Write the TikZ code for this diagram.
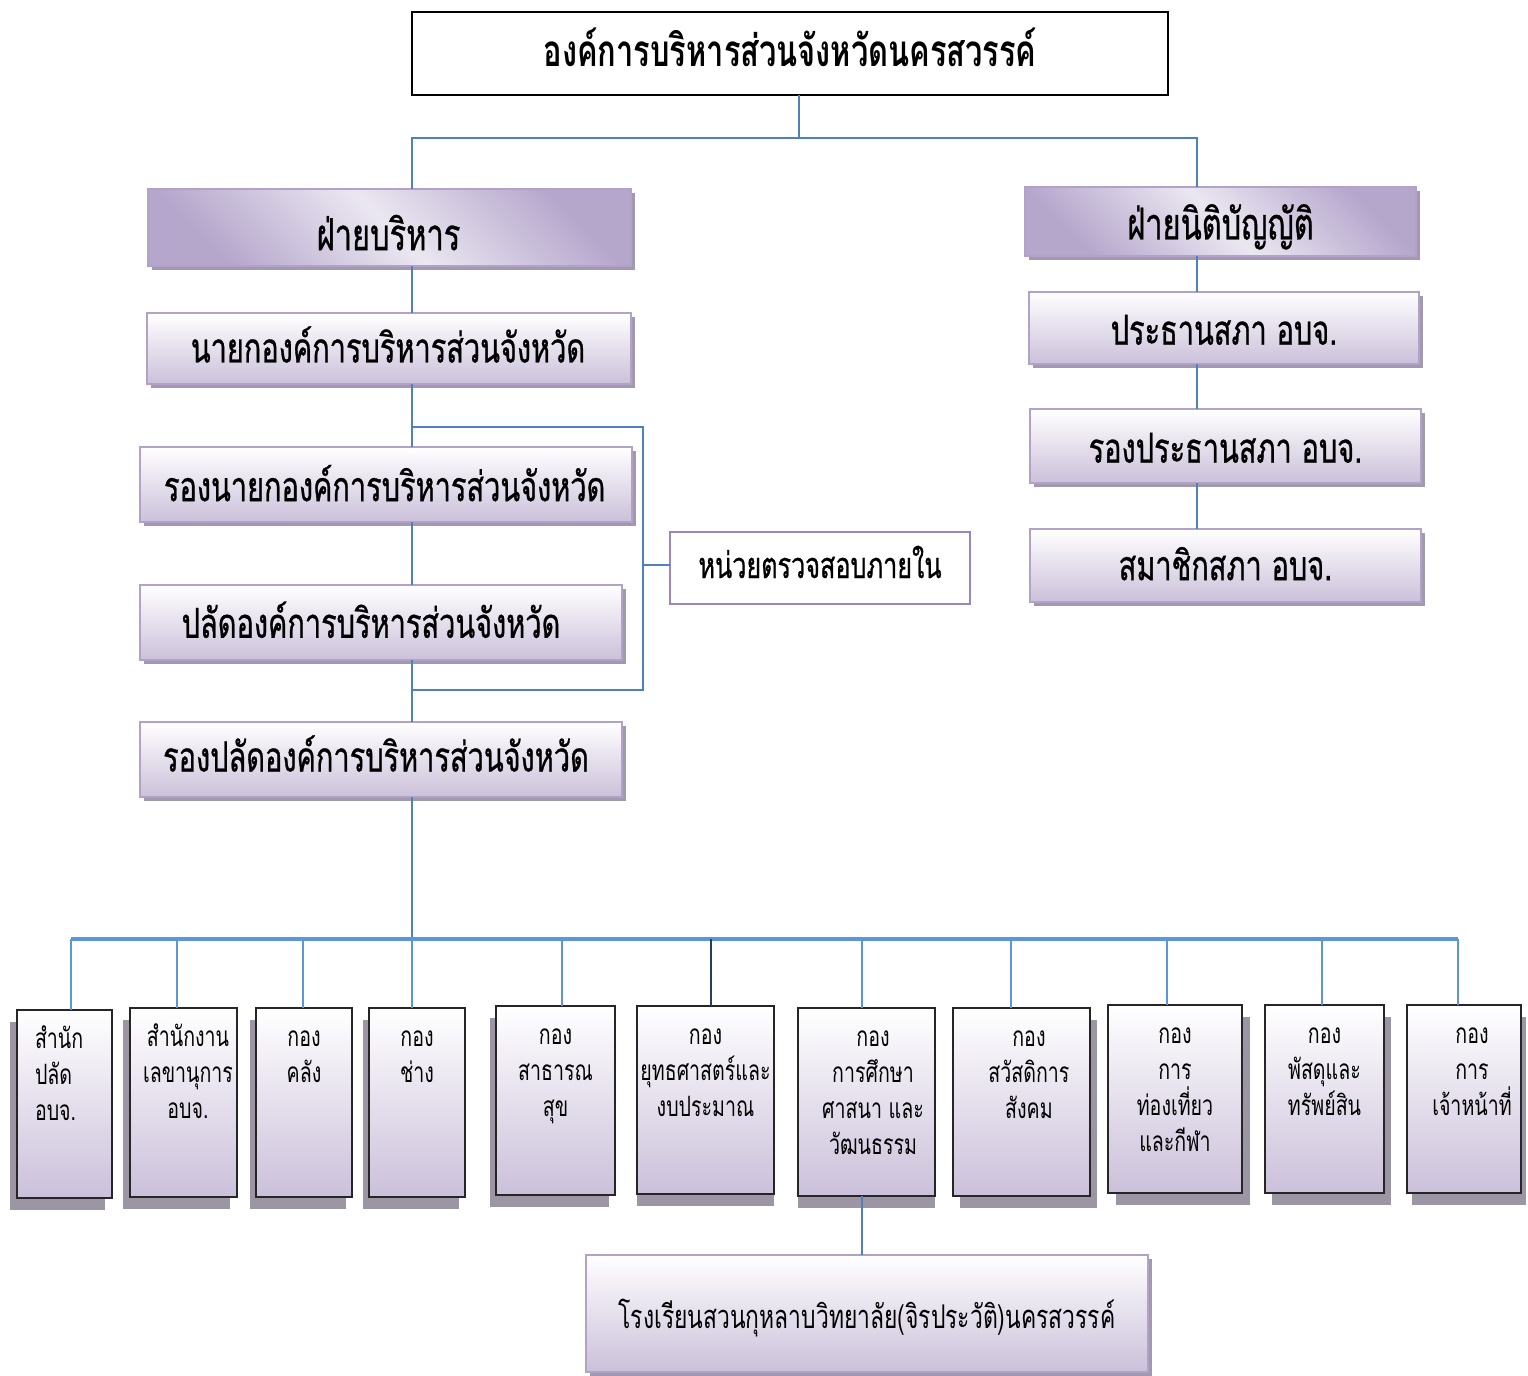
\documentclass[tikz,border=0pt]{standalone}
\usepackage{fontspec}
\setmainfont{Loma}[Script=Thai, FakeStretch=0.7]
\newfontfamily\semib{Loma}[Script=Thai, FakeStretch=0.7, FakeBold=0.7]
\usetikzlibrary{shadows}
\definecolor{connc}{HTML}{4F81BD}
\definecolor{busc}{HTML}{5B95DA}
\definecolor{navy}{HTML}{243F60}
\definecolor{pbord}{HTML}{B2A2CA}
\definecolor{lav}{HTML}{CBC0DA}
\definecolor{pdark}{HTML}{B5A6CC}
\definecolor{plight}{HTML}{EBE7F1}
\definecolor{shd}{HTML}{A09AAC}
\definecolor{bshd}{HTML}{9C96A4}
\definecolor{aud}{HTML}{9B87C0}
% unit text: height, width, horizontal shift, lines
\newcommand\utext[4]{\parbox[c][#1][t]{#2}{\centering\leftskip=#3 plus 1fil\rightskip=-#3 plus 1fil\vspace*{10pt}\strut#4}}
% text placed with horizontal offset #1 and baseline #2 below the node centre
\newcommand\tx[3]{\makebox[0pt]{\hspace*{#1}\raisebox{-#2}{#3}\hspace*{-#1}}}
\tikzset{
 wh/.style 2 args={minimum width=#1*0.75pt, minimum height=#2*0.75pt},
 base/.style={inner sep=0pt, outer sep=0pt},
 zt/.style={text height=0pt, text depth=0pt},
 topbox/.style={base, zt, draw=black, line width=1.2pt, fill=white, font=\fontsize{33}{36}\selectfont\bfseries},
 headbox/.style={base, zt, draw=pbord, line width=1.5pt, left color=pdark, right color=pdark, middle color=plight, shading angle=-45, general shadow={fill=shd, shadow xshift=3pt, shadow yshift=-3pt}, font=\semib\fontsize{33}{36}\selectfont},
 rolebox/.style={base, zt, draw=pbord, line width=1.5pt, top color=white, bottom color=lav, general shadow={fill=shd, shadow xshift=3pt, shadow yshift=-3pt}, font=\semib\fontsize{31}{34}\selectfont},
 audbox/.style={base, zt, draw=aud, line width=1.3pt, fill=white, font=\semib\fontsize{27}{30}\selectfont},
 unitbox/.style={base, draw=black!85, line width=0.9pt, top color=white, bottom color=lav, general shadow={fill=bshd, shadow xshift=#1, shadow yshift=-9pt}, font=\fontsize{21}{27}\selectfont},
 conn/.style={draw=connc, line width=1.8pt},
 busline/.style={draw=busc, line width=2.6pt},
 drop/.style={draw=busc, line width=1.8pt},
}
\begin{document}
\begin{tikzpicture}[x=0.75pt,y=-0.75pt]
\useasboundingbox (0,0) rectangle (1528,1376);
% top
\node[topbox, wh={756}{83}] (top) at (790,53.5) {\tx{0pt}{10pt}{องค์การบริหารส่วนจังหวัดนครสวรรค์}};
% left column
\node[headbox, wh={483}{77}] (fb) at (389.5,227.5) {\tx{-0.75pt}{17pt}{ฝ่ายบริหาร}};
\node[rolebox, wh={484}{71}] (nk) at (389,348.5) {\tx{-0.75pt}{10.5pt}{นายกองค์การบริหารส่วนจังหวัด}};
\node[rolebox, wh={492}{75}] (rn) at (386,484.5) {\tx{-1pt}{12.5pt}{รองนายกองค์การบริหารส่วนจังหวัด}};
\node[rolebox, wh={482}{75}] (pl) at (381,622.5) {\tx{-7.5pt}{11.5pt}{ปลัดองค์การบริหารส่วนจังหวัด}};
\node[rolebox, wh={482}{75}] (rp) at (381,759.5) {\tx{-3.75pt}{9pt}{รองปลัดองค์การบริหารส่วนจังหวัด}};
\node[audbox, wh={300}{72}] (au) at (820,568) {\tx{0pt}{7.5pt}{หน่วยตรวจสอบภายใน}};
% right column
\node[headbox, wh={391}{69}] (fl) at (1220.5,221.5) {\tx{0pt}{13.5pt}{ฝ่ายนิติบัญญัติ}};
\node[rolebox, wh={390}{72}] (pr) at (1224,328) {\tx{0pt}{12.5pt}{ประธานสภา อบจ.}};
\node[rolebox, wh={391}{74}] (rpr) at (1225.5,446) {\tx{0pt}{12.5pt}{รองประธานสภา อบจ.}};
\node[rolebox, wh={391}{73}] (sm) at (1225.5,565.5) {\tx{0pt}{11pt}{สมาชิกสภา อบจ.}};
% units
\node[unitbox=-5.25pt, wh={95}{188}] (b1) at (64.5,1104) {\parbox[c][141pt][t]{71.25pt}{\raggedright\leftskip=13.5pt\vspace*{10pt}\strut สำนัก\\ปลัด\\อบจ.}};
\node[unitbox=-5.25pt, wh={107}{189}] (b2) at (183.5,1102.5) {\utext{141.75pt}{80.25pt}{3.4pt}{สำนักงาน\\เลขานุการ\\อบจ.}};
\node[unitbox=-4.5pt, wh={96}{189}] (b3) at (304,1102.5) {\utext{141.75pt}{72pt}{0pt}{กอง\\คลัง}};
\node[unitbox=-4.5pt, wh={96}{189}] (b4) at (417,1102.5) {\utext{141.75pt}{72pt}{0pt}{กอง\\ช่าง}};
\node[unitbox=-4.5pt, wh={119}{189}] (b5) at (555.5,1100.5) {\utext{141.75pt}{89.25pt}{0pt}{กอง\\สาธารณ\\สุข}};
\node[unitbox=0pt, wh={137}{188}] (b6) at (705.5,1100) {\utext{141pt}{102.75pt}{0pt}{กอง\\ยุทธศาสตร์และ\\งบประมาณ}};
\node[unitbox=0pt, wh={137}{188}] (b7) at (866.5,1102) {\utext{141pt}{102.75pt}{4.9pt}{กอง\\การศึกษา\\ศาสนา และ\\วัฒนธรรม}};
\node[unitbox=5.25pt, wh={137}{188}] (b8) at (1021.5,1102) {\utext{141pt}{102.75pt}{5.6pt}{กอง\\สวัสดิการ\\สังคม}};
\node[unitbox=6pt, wh={134}{188}] (b9) at (1175,1099) {\utext{141pt}{100.5pt}{0pt}{กอง\\การ\\ท่องเที่ยว\\และกีฬา}};
\node[unitbox=5.25pt, wh={119}{188}] (b10) at (1324.5,1099) {\utext{141pt}{89.25pt}{0pt}{กอง\\พัสดุและ\\ทรัพย์สิน}};
\node[unitbox=3.75pt, wh={114}{188}] (b11) at (1464,1099) {\utext{141pt}{85.5pt}{6pt}{กอง\\การ\\เจ้าหน้าที่}};
\node[rolebox, wh={562}{117}, font=\fontsize{24.5}{28}\selectfont] (sc) at (867,1313.5) {\tx{0pt}{11pt}{โรงเรียนสวนกุหลาบวิทยาลัย(จิรประวัติ)นครสวรรค์}};
% coordinates
\coordinate (mx) at (799,138);
\coordinate (lx) at (412,138);
\coordinate (rx) at (1197,138);
\coordinate (bt) at (412,427);
\coordinate (bb) at (412,690);
\coordinate (bx) at (643,565);
\foreach \i/\x in {1/71,2/177,3/303,4/412,5/562,6/711,7/862,8/1011,9/1167,10/1322,11/1458}
  \coordinate (d\i) at (\x,939);
% connectors
\draw[conn] (top.south -| mx) -- (mx);
\draw[conn] (fb.north -| lx) -- (lx) -- (rx) -- (fl.north -| rx);
\draw[conn] (fb.south -| lx) -- (nk.north -| lx);
\draw[conn] (nk.south -| lx) -- (rn.north -| lx);
\draw[conn] (rn.south -| lx) -- (pl.north -| lx);
\draw[conn] (pl.south -| lx) -- (rp.north -| lx);
\draw[conn] (rp.south -| lx) -- (d4);
\draw[conn] (bt) -- (bt -| bx) -- (bb -| bx) -- (bb);
\draw[conn] (bx) -- (au.west |- bx);
\draw[conn] (fl.south -| rx) -- (pr.north -| rx);
\draw[conn] (pr.south -| rx) -- (rpr.north -| rx);
\draw[conn] (rpr.south -| rx) -- (sm.north -| rx);
\draw[busline] (d1) -- (d11);
\foreach \i/\n in {1/b1,2/b2,3/b3,4/b4,5/b5,7/b7,8/b8,9/b9,10/b10,11/b11}
  \draw[drop] (d\i) -- (d\i |- \n.north);
\draw[drop, draw=navy] (d6) -- (d6 |- b6.north);
\draw[conn] (b7.south -| d7) -- (sc.north -| d7);
\end{tikzpicture}
\end{document}
